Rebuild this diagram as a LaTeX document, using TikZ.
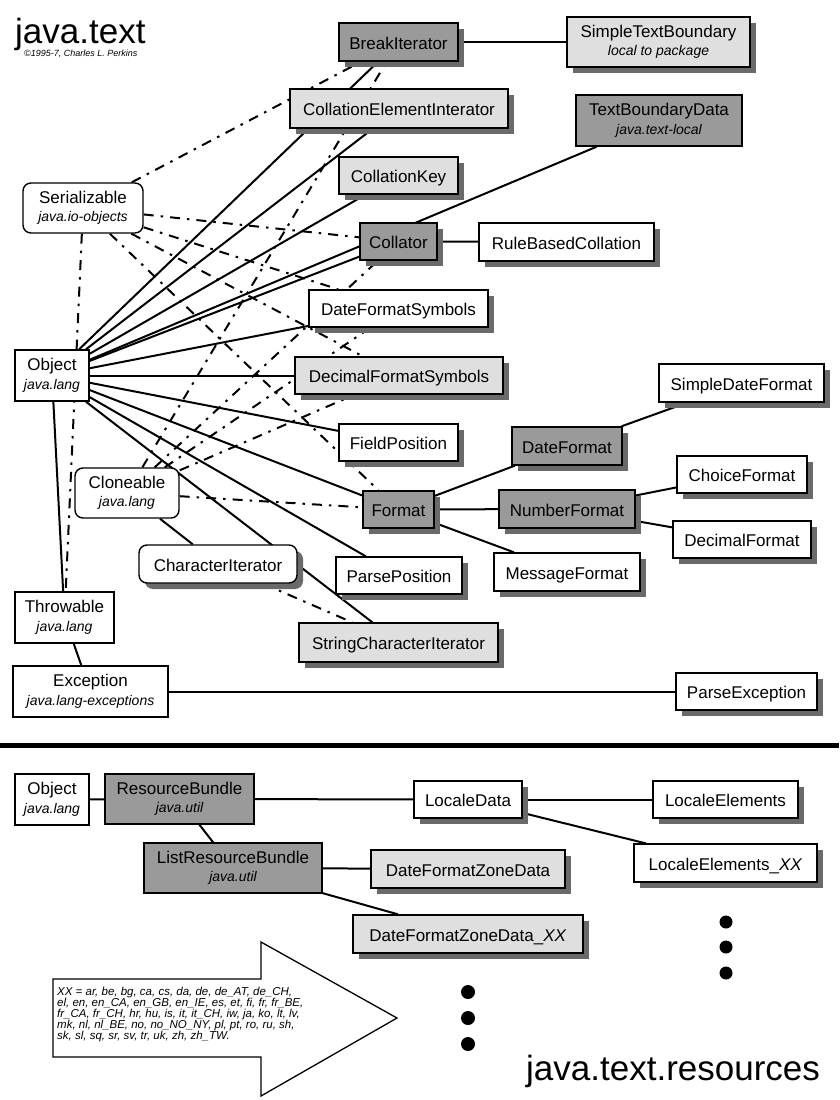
\documentclass[tikz,border=0pt]{standalone}
\usepackage{fontspec}
\setmainfont{Liberation Sans}
\usetikzlibrary{shadows,backgrounds}
\definecolor{dkfillc}{HTML}{9A9A9A}
\definecolor{ltfillc}{HTML}{DFDFDF}
\definecolor{shadc}{HTML}{6A6A6A}
\newcommand{\pkgnote}[1]{{\fontsize{14}{18.5}\selectfont\itshape #1}}
\begin{document}
\begin{tikzpicture}[x=1pt,y=-1pt,
  cls/.style={draw=black, line width=1.4pt, inner sep=0pt, font=\fontsize{17}{18.5}\selectfont, text height=14pt, text depth=0pt},
  cls2/.style={draw=black, line width=1.4pt, inner sep=0pt, align=center, font=\fontsize{17}{18.5}\selectfont},
  fillD/.style={fill=dkfillc}, fillL/.style={fill=ltfillc}, fillW/.style={fill=white},
  shd/.style={drop shadow={shadow xshift=6pt, shadow yshift=-6pt, fill=shadc, opacity=1}},
  ifc/.style={rounded corners=8pt},
  conn/.style={line width=2pt},
  impl/.style={line width=2pt, dash pattern=on 10pt off 7pt on 2.5pt off 7pt},
  dotmark/.style={fill=black},
]
\useasboundingbox (0,0) rectangle (839,1100);

% titles
\node[anchor=base west, inner sep=0pt, font=\fontsize{35}{35}\selectfont] (title) at (15,43) {java.text};
\node[anchor=base west, inner sep=0pt, font=\fontsize{9}{9}\selectfont\itshape] (credit) at (24,56) {©1995-7, Charles L. Perkins};

% upper part nodes
\node[cls, fillD, shd, minimum width=119pt, minimum height=38pt] (brk) at (398.5,42) {BreakIterator};
\node[cls2, fillL, shd, minimum width=183pt, minimum height=50pt] (stb) at (658.5,42) {SimpleTextBoundary\\\pkgnote{local to package}};
\node[cls, fillL, shd, minimum width=218pt, minimum height=39pt] (cei) at (399,108.5) {CollationElementInterator};
\node[cls2, fillD, minimum width=166pt, minimum height=51pt] (tbd) at (659,120.5) {TextBoundaryData\\\pkgnote{java.text-local}};
\node[cls, fillL, shd, minimum width=119pt, minimum height=37pt] (ckey) at (398.5,175.5) {CollationKey};
\node[cls2, fillW, ifc, minimum width=120pt, minimum height=50pt] (ser) at (83,208) {Serializable\\\pkgnote{java.io-objects}};
\node[cls, fillD, shd, minimum width=77pt, minimum height=37pt] (coll) at (398.5,241.5) {Collator};
\node[cls, fillW, shd, minimum width=175pt, minimum height=38pt] (rbc) at (566.5,242) {RuleBasedCollation};
\node[cls, fillW, shd, minimum width=179pt, minimum height=37pt] (dfs) at (398.5,308.5) {DateFormatSymbols};
\node[cls2, fillW, minimum width=74pt, minimum height=51pt] (obj) at (52,375.5) {Object\\\pkgnote{java.lang}};
\node[cls, fillL, shd, minimum width=208pt, minimum height=37pt] (decfs) at (399,375.5) {DecimalFormatSymbols};
\node[cls, fillW, shd, minimum width=165pt, minimum height=38pt] (sdf) at (741.5,383) {SimpleDateFormat};
\node[cls, fillW, shd, minimum width=119pt, minimum height=37pt] (fpos) at (398.5,442.5) {FieldPosition};
\node[cls, fillD, shd, minimum width=110pt, minimum height=38pt] (datef) at (567,446) {DateFormat};
\node[cls, fillW, shd, minimum width=130pt, minimum height=37pt] (chf) at (742,474.5) {ChoiceFormat};
\node[cls2, fillW, ifc, minimum width=104pt, minimum height=50pt] (clo) at (127,493) {Cloneable\\\pkgnote{java.lang}};
\node[cls, fillD, shd, minimum width=71pt, minimum height=37pt] (fmt) at (398.5,509.5) {Format};
\node[cls, fillD, shd, minimum width=136pt, minimum height=38pt] (numf) at (567,509) {NumberFormat};
\node[cls, fillW, shd, minimum width=138pt, minimum height=37pt] (decf) at (742,539.5) {DecimalFormat};
\node[cls, fillW, ifc, shd, minimum width=158pt, minimum height=38pt] (chit) at (218,564) {CharacterIterator};
\node[cls, fillW, shd, minimum width=146pt, minimum height=38pt] (msgf) at (567,572) {MessageFormat};
\node[cls, fillW, shd, minimum width=126pt, minimum height=37pt] (ppos) at (399,575.5) {ParsePosition};
\node[cls2, fillW, minimum width=99pt, minimum height=51pt] (thr) at (64.5,617.5) {Throwable\\\pkgnote{java.lang}};
\node[cls, fillL, shd, minimum width=199pt, minimum height=39pt] (sci) at (398.5,642.5) {StringCharacterIterator};
\node[cls2, fillW, minimum width=155pt, minimum height=51pt] (exc) at (90.5,691.5) {Exception\\\pkgnote{java.lang-exceptions}};
\node[cls, fillW, shd, minimum width=141pt, minimum height=37pt] (pexc) at (746.5,691.5) {ParseException};

% lower part nodes
\node[cls2, fillW, minimum width=74pt, minimum height=51pt] (objb) at (52,799.5) {Object\\\pkgnote{java.lang}};
\node[cls2, fillD, minimum width=149pt, minimum height=50pt] (rb) at (179.5,799) {ResourceBundle\\\pkgnote{java.util}};
\node[cls2, fillD, minimum width=178pt, minimum height=50pt] (lrb) at (233,868) {ListResourceBundle\\\pkgnote{java.util}};
\node[cls, fillL, shd, minimum width=194pt, minimum height=38pt] (dfzd) at (468,869) {DateFormatZoneData};
\node[cls, fillL, shd, minimum width=230pt, minimum height=38pt] (dfzdxx) at (468,934) {DateFormatZoneData\_\textit{XX}};
\node[cls, fillW, shd, minimum width=108pt, minimum height=37pt] (ld) at (468,799.5) {LocaleData};
\node[cls, fillW, shd, minimum width=145pt, minimum height=37pt] (le) at (725.5,799.5) {LocaleElements};
\node[cls, fillW, shd, minimum width=183pt, minimum height=38pt] (lexx) at (725.5,863) {LocaleElements\_\textit{XX}};

% connectors
\begin{scope}[on background layer]
\draw[conn] (obj) -- (brk);
\draw[conn] (obj) -- (cei);
\draw[conn] (obj) -- (ckey);
\draw[conn] (obj) -- (tbd);
\draw[conn] (obj) -- (coll);
\draw[conn] (obj) -- (dfs);
\draw[conn] (obj) -- (decfs);
\draw[conn] (obj) -- (fpos);
\draw[conn] (obj) -- (fmt);
\draw[conn] (obj) -- (ppos);
\draw[conn] (obj) -- (sci);
\draw[conn] (obj) -- (thr);
\draw[conn] (thr) -- (exc);
\draw[conn] (exc) -- (pexc);
\draw[conn] (brk) -- (stb);
\draw[conn] (coll) -- (rbc);
\draw[conn] (fmt) -- (datef);
\draw[conn] (fmt) -- (numf);
\draw[conn] (fmt) -- (msgf);
\draw[conn] (datef) -- (sdf);
\draw[conn] (numf) -- (chf);
\draw[conn] (numf) -- (decf);
\draw[conn] (clo) -- (chit);
\draw[impl] (ser) -- (brk);
\draw[impl] (ser) -- (coll);
\draw[impl] (ser) -- (dfs);
\draw[impl] (ser) -- (decfs);
\draw[impl] (ser) -- (fmt);
\draw[impl] (ser) -- (thr);
\draw[impl] (clo) -- (brk);
\draw[impl] (clo) -- (coll);
\draw[impl] (clo) -- (dfs);
\draw[impl] (clo) -- (decfs);
\draw[impl] (clo) -- (fmt);
\draw[impl] (chit) -- (sci);
\draw[conn] (objb) -- (rb);
\draw[conn] (rb) -- (lrb);
\draw[conn] (rb) -- (ld);
\draw[conn] (ld) -- (le);
\draw[conn] (ld) -- (lexx);
\draw[conn] (lrb) -- (dfzd);
\draw[conn] (lrb) -- (dfzdxx);
\end{scope}

% separator
\draw[line width=5pt] (0,745) -- (839,745);

% continuation dots
\fill[dotmark] (726,922) circle (6.5);
\fill[dotmark] (726,947) circle (6.5);
\fill[dotmark] (726,973) circle (6.5);
\fill[dotmark] (468,992) circle (7);
\fill[dotmark] (468,1018) circle (7);
\fill[dotmark] (468,1044) circle (7);

% big arrow with locale list
\draw[line width=1.3pt, fill=white, line join=miter] (53,979) -- (261,979) -- (261,942) -- (397,1018) -- (261,1096) -- (261,1057) -- (53,1057) -- cycle;
\node[anchor=north west, inner sep=0pt, align=left, font=\fontsize{11.5}{11.1}\selectfont\itshape] (xx) at (57,987)
 {XX = ar, be, bg, ca, cs, da, de, de\_AT, de\_CH,\\
  el, en, en\_CA, en\_GB, en\_IE, es, et, fi, fr, fr\_BE,\\
  fr\_CA, fr\_CH, hr, hu, is, it, it\_CH, iw, ja, ko, lt, lv,\\
  mk, nl, nl\_BE, no, no\_NO\_NY, pl, pt, ro, ru, sh,\\
  sk, sl, sq, sr, sv, tr, uk, zh, zh\_TW.};

\node[anchor=base west, inner sep=0pt, font=\fontsize{35}{35}\selectfont] (restitle) at (526,1080) {java.text.resources};
\end{tikzpicture}
\end{document}
